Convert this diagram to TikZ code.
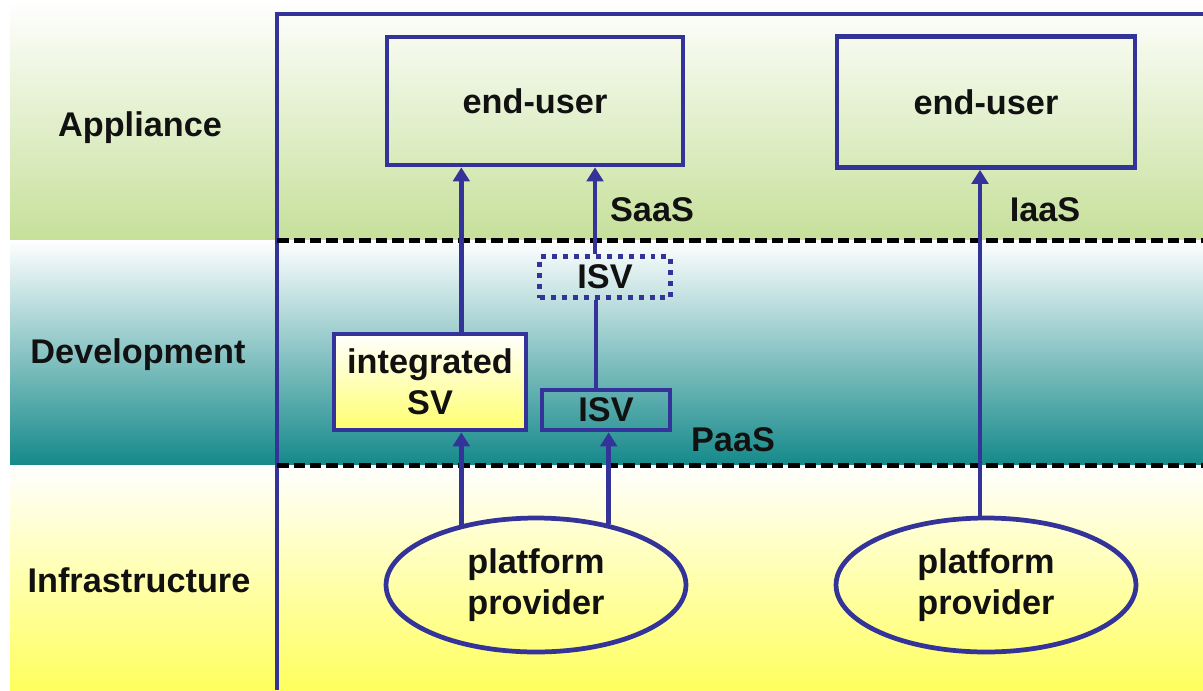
\documentclass[tikz,border=0pt]{standalone}
\usepackage{fontspec}
\setmainfont{Liberation Sans}
\usepackage{xcolor}
\usetikzlibrary{positioning,arrows.meta,shapes.geometric}
\definecolor{cLine}{HTML}{333399}
\definecolor{cGreen}{HTML}{C6E09A}
\definecolor{cTeal}{HTML}{15898A}
\definecolor{cYel}{HTML}{FFFF5E}
\definecolor{cText}{HTML}{111111}
\tikzset{
  lay/label/.style={font=\fontsize{19.5}{23.3}\selectfont\bfseries, text=cText,
                    align=center, inner sep=0pt},
  lay/box/.style  ={lay/label, draw=cLine, line width=2.7pt, fill=none},
  lay/dotbox/.style={lay/box, line width=2.5pt, dash pattern=on 0.1cm off 0.12cm},
  lay/oval/.style ={lay/box, ellipse, minimum width=6cm, minimum height=2.68cm},
  lay/link/.style ={draw=cLine, line width=2.5pt},
  lay/arr/.style  ={lay/link, -{Triangle[length=0.28cm, width=0.33cm]}},
  lay/cut/.style  ={draw=black, line width=0.1cm, dash pattern=on 0.23cm off 0.1cm},
  lay/frame/.style={draw=cLine, line width=2.5pt}
}
\begin{document}
\begin{tikzpicture}[x=0.02cm, y=-0.02cm]
    \useasboundingbox (0,0) rectangle (1203,690);
    % three layers, each shaded from white
    \fill[top color=white, bottom color=cGreen] (10,0)   rectangle (1203,240);
    \fill[top color=white, bottom color=cTeal]  (10,240) rectangle (1203,465);
    \fill[top color=white, bottom color=cYel]   (10,465) rectangle (1203,690);
    % layer names
    \node[lay/label] (appl) at (140,128) {Appliance};
    \node[lay/label] (devl) at (138,355) {Development};
    \node[lay/label] (infr) at (139,580) {Infrastructure};
    % frame and layer borders
    \draw[lay/frame] (277,690) |- (1203,14);
    \draw[lay/cut] (277,240) -- (1203,240);
    \draw[lay/cut] (277,465) -- (1203,465);
    % boxes
    \node[lay/box, minimum width=5.92cm, minimum height=2.56cm] (eu1) at (535,101) {end-user};
    \node[lay/box, minimum width=5.96cm, minimum height=2.62cm] (eu2) at (986,102) {end-user};
    \node[lay/box, minimum width=3.84cm, minimum height=1.92cm,
          top color=white, bottom color=cYel!90!white] (intsv) at (430,382) {integrated\\SV};
    \node[lay/dotbox, minimum width=2.62cm, minimum height=0.82cm] (isvd) at (605,277) {ISV};
    \node[lay/box, minimum width=2.56cm, minimum height=0.8cm] (isv) at (606,410) {ISV};
    \node[lay/oval] (pp1) at (536,585) {platform\\provider};
    \node[lay/oval] (pp2) at (986,585) {platform\\provider};
    % service labels
    \node[lay/label] (saas) at (652,210) {SaaS};
    \node[lay/label] (iaas) at (1045,210) {IaaS};
    \node[lay/label] (paas) at (733,440) {PaaS};
    % connectors
    \draw[lay/arr] (pp1.141) -- (pp1.141 |- intsv.south);
    \draw[lay/arr] (pp1.141 |- intsv.north) -- (pp1.141 |- eu1.south);
    \draw[lay/arr] (pp1.40) -- (pp1.40 |- isv.south);
    \draw[lay/link] ([xshift=-0.2cm]isv.north) -- ([xshift=-0.2cm]isv.north |- isvd.south);
    \draw[lay/arr] ([xshift=-0.2cm]isvd.north) -- ([xshift=-0.2cm]isvd.north |- eu1.south);
    \draw[lay/arr] ([xshift=-0.12cm]pp2.north) -- ([xshift=-0.12cm]pp2.north |- eu2.south);
\end{tikzpicture}
\end{document}
